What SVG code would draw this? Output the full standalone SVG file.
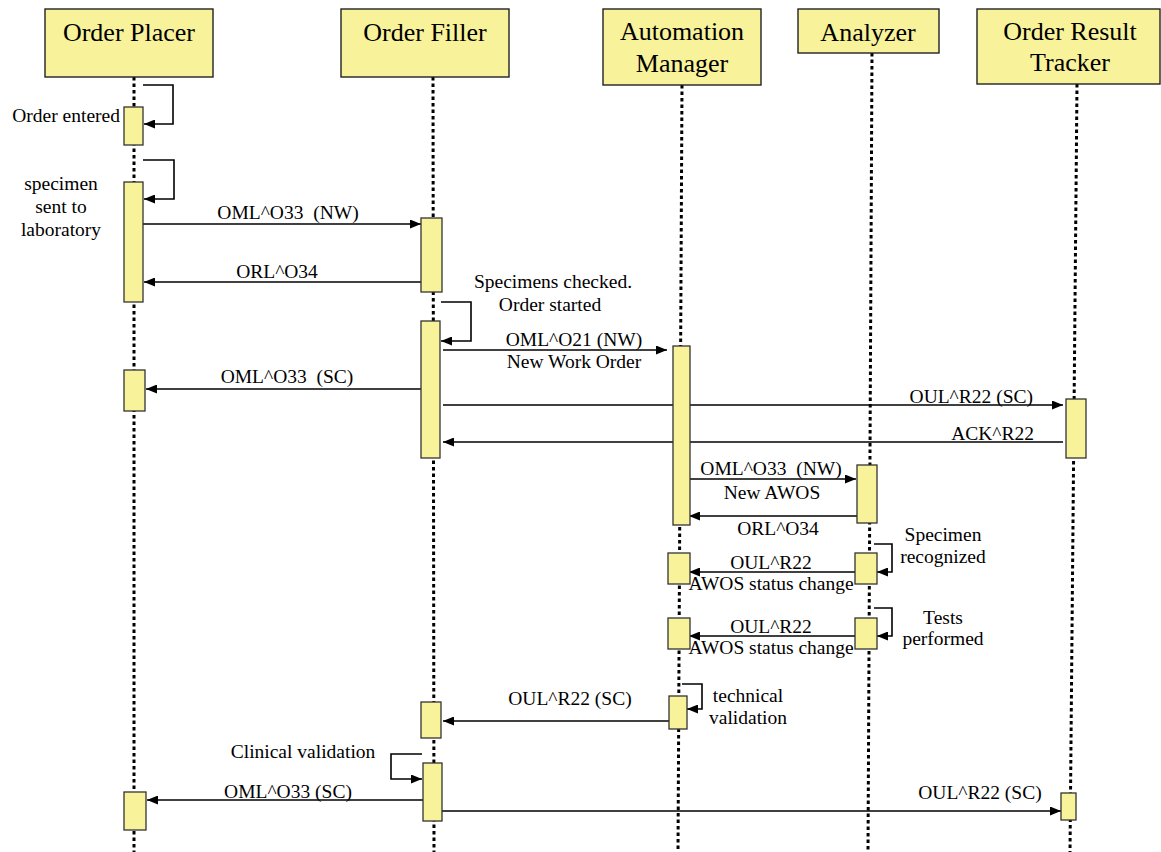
<svg xmlns="http://www.w3.org/2000/svg" width="1161" height="852" viewBox="0 0 1161 852">
<style>
.hdr{fill:#F8F29A;stroke:#222;stroke-width:1.4}
.bar{fill:#F8F29A;stroke:#333;stroke-width:1.3}
.life{stroke:#000;stroke-width:3;stroke-dasharray:3.5 3;fill:none}
.msg{stroke:#000;stroke-width:1.6;fill:none}
.h{font-family:"Liberation Serif","Times New Roman",serif;font-size:26px;fill:#000;text-anchor:middle}
.t{font-family:"Liberation Serif","Times New Roman",serif;font-size:19.5px;fill:#000;text-anchor:middle}
</style>
<defs>
<marker id="arr" markerUnits="userSpaceOnUse" markerWidth="11" markerHeight="9" refX="11" refY="4.5" orient="auto">
<path d="M0,0 L11,4.5 L0,9 z" fill="#000"/>
</marker>
</defs>
<rect width="1161" height="852" fill="#fff"/>

<g id="lifelines">
<line class="life" x1="134" y1="77" x2="134" y2="852"/>
<line class="life" x1="433" y1="77" x2="434" y2="852"/>
<line class="life" x1="682" y1="85" x2="678" y2="852"/>
<line class="life" x1="872" y1="53" x2="868" y2="852"/>
<line class="life" x1="1077" y1="84" x2="1070" y2="852"/>
</g>

<g id="order-placer">
<rect class="hdr" x="45" y="9" width="168" height="68"/>
<text class="h" x="129" y="41">Order Placer</text>
</g>
<g id="order-filler">
<rect class="hdr" x="341" y="9" width="168" height="68"/>
<text class="h" x="425" y="41">Order Filler</text>
</g>
<g id="automation-manager">
<rect class="hdr" x="603" y="9" width="158" height="76"/>
<text class="h" x="682" y="40">Automation</text>
<text class="h" x="682" y="72">Manager</text>
</g>
<g id="analyzer">
<rect class="hdr" x="798" y="9" width="141" height="44"/>
<text class="h" x="868" y="41">Analyzer</text>
</g>
<g id="order-result-tracker">
<rect class="hdr" x="977" y="9" width="183" height="75"/>
<text class="h" x="1070" y="40">Order Result</text>
<text class="h" x="1070" y="71">Tracker</text>
</g>

<g id="connectors">
<path class="msg" d="M143,85 H173 V124 H144" marker-end="url(#arr)"/>
<path class="msg" d="M143,160 H174 V199 H144" marker-end="url(#arr)"/>
<path class="msg" d="M143,224 H421" marker-end="url(#arr)"/>
<path class="msg" d="M421,282 H144" marker-end="url(#arr)"/>
<path class="msg" d="M441,302 H471 V341 H441" marker-end="url(#arr)"/>
<path class="msg" d="M443,350 H667" marker-end="url(#arr)"/>
<path class="msg" d="M421,389 H146" marker-end="url(#arr)"/>
<path class="msg" d="M443,405 H1063" marker-end="url(#arr)"/>
<path class="msg" d="M1063,442 H443" marker-end="url(#arr)"/>
<path class="msg" d="M687,479 H856" marker-end="url(#arr)"/>
<path class="msg" d="M857,516 H689" marker-end="url(#arr)"/>
<path class="msg" d="M874,544 H892 V572 H877" marker-end="url(#arr)"/>
<path class="msg" d="M855,572 H689" marker-end="url(#arr)"/>
<path class="msg" d="M874,608 H892 V636 H877" marker-end="url(#arr)"/>
<path class="msg" d="M855,636 H689" marker-end="url(#arr)"/>
<path class="msg" d="M682,684 H702 V709 H687" marker-end="url(#arr)"/>
<path class="msg" d="M669,721 H443" marker-end="url(#arr)"/>
<path class="msg" d="M422,754 H391 V779 H422" marker-end="url(#arr)"/>
<path class="msg" d="M423,800 H147" marker-end="url(#arr)"/>
<path class="msg" d="M442,811 H1061" marker-end="url(#arr)"/>
</g>

<g id="activations">
<rect class="bar" x="124" y="107" width="19" height="38"/>
<rect class="bar" x="124" y="182" width="19" height="120"/>
<rect class="bar" x="124" y="370" width="21" height="41"/>
<rect class="bar" x="124" y="792" width="22" height="38"/>
<rect class="bar" x="421" y="218" width="21" height="74"/>
<rect class="bar" x="421" y="321" width="19" height="137"/>
<rect class="bar" x="421" y="702" width="20" height="36"/>
<rect class="bar" x="423" y="763" width="19" height="58"/>
<rect class="bar" x="673" y="346" width="17" height="179"/>
<rect class="bar" x="668" y="553" width="22" height="31"/>
<rect class="bar" x="668" y="618" width="22" height="31"/>
<rect class="bar" x="669" y="696" width="18" height="33"/>
<rect class="bar" x="857" y="465" width="20" height="58"/>
<rect class="bar" x="855" y="553" width="22" height="31"/>
<rect class="bar" x="855" y="618" width="22" height="31"/>
<rect class="bar" x="1066" y="399" width="20" height="59"/>
<rect class="bar" x="1061" y="793" width="15" height="27"/>
</g>

<g id="labels">
<text class="t" x="120" y="122" style="text-anchor:end">Order entered</text>
<text class="t" x="61" y="190">specimen</text>
<text class="t" x="61" y="213">sent to</text>
<text class="t" x="61" y="236">laboratory</text>
<text class="t" x="288" y="219" xml:space="preserve">OML^O33  (NW)</text>
<text class="t" x="277" y="278">ORL^O34</text>
<text class="t" x="553" y="288">Specimens checked.</text>
<text class="t" x="550" y="311">Order started</text>
<text class="t" x="574" y="346">OML^O21 (NW)</text>
<text class="t" x="574" y="368">New Work Order</text>
<text class="t" x="287" y="383" xml:space="preserve">OML^O33  (SC)</text>
<text class="t" x="1033" y="403" style="text-anchor:end">OUL^R22 (SC)</text>
<text class="t" x="1034" y="440" style="text-anchor:end">ACK^R22</text>
<text class="t" x="771" y="475" xml:space="preserve">OML^O33  (NW)</text>
<text class="t" x="772" y="499">New AWOS</text>
<text class="t" x="778" y="535">ORL^O34</text>
<text class="t" x="943" y="541">Specimen</text>
<text class="t" x="943" y="563">recognized</text>
<text class="t" x="771" y="569">OUL^R22</text>
<text class="t" x="771" y="590">AWOS status change</text>
<text class="t" x="943" y="624">Tests</text>
<text class="t" x="943" y="645">performed</text>
<text class="t" x="771" y="633">OUL^R22</text>
<text class="t" x="771" y="654">AWOS status change</text>
<text class="t" x="748" y="702">technical</text>
<text class="t" x="748" y="724">validation</text>
<text class="t" x="570" y="705">OUL^R22 (SC)</text>
<text class="t" x="303" y="758">Clinical validation</text>
<text class="t" x="288" y="798">OML^O33 (SC)</text>
<text class="t" x="980" y="799">OUL^R22 (SC)</text>
</g>
</svg>
